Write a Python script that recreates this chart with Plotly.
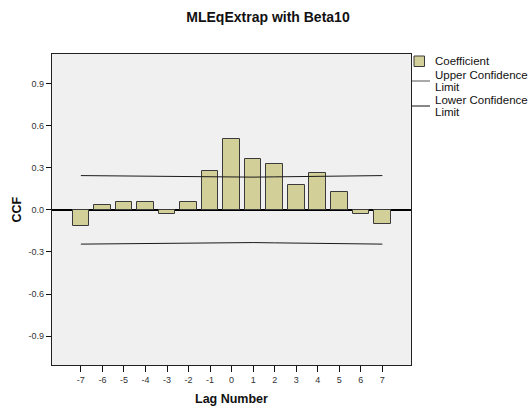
import plotly.graph_objects as go

# Cross-correlation results
lags = [-7, -6, -5, -4, -3, -2, -1, 0, 1, 2, 3, 4, 5, 6, 7]
coefficient = [-0.115, 0.035, 0.053, 0.057, -0.028, 0.057, 0.275, 0.508,
               0.363, 0.327, 0.178, 0.263, 0.130, -0.026, -0.100]
upper_limit = [0.244, 0.242, 0.240, 0.238, 0.236, 0.235, 0.233, 0.232,
               0.233, 0.235, 0.236, 0.238, 0.240, 0.242, 0.244]
lower_limit = [-0.244, -0.242, -0.240, -0.238, -0.236, -0.235, -0.233, -0.232,
               -0.233, -0.235, -0.236, -0.238, -0.240, -0.242, -0.244]

y_ticks = [-0.9, -0.6, -0.3, 0.0, 0.3, 0.6, 0.9]
y_tick_text = ["-0.9", "-0.6", "-0.3", "0.0", "0.3", "0.6", "0.9"]
x_tick_text = ["-7", "-6", "-5", "-4", "-3", "-2", "-1", "0",
               "1", "2", "3", "4", "5", "6", "7"]

W, H = 529, 406
ML, MR, MT, MB = 52, 118, 54, 41
PW, PH = W - ML - MR, H - MT - MB

FONT = "Liberation Sans, Arial, sans-serif"
BAR_FILL = "#d3cf98"
BAR_EDGE = "#3a3a3a"


def px_x(px):
    return (px - ML) / PW


def px_y(py):
    return (H - MB - py) / PH


fig = go.Figure()
fig.add_trace(go.Bar(
    x=lags, y=coefficient, width=0.77, name="Coefficient",
    marker=dict(color=BAR_FILL, line=dict(color=BAR_EDGE, width=1)),
))
fig.add_trace(go.Scatter(
    x=lags, y=upper_limit, mode="lines", name="Upper Confidence Limit",
    line=dict(color="#1a1a1a", width=1),
))
fig.add_trace(go.Scatter(
    x=lags, y=lower_limit, mode="lines", name="Lower Confidence Limit",
    line=dict(color="#1a1a1a", width=1),
))

# Legend drawn by hand so the two-line labels sit like the SPSS key
shapes = [
    dict(type="rect", xref="paper", yref="paper",
         x0=px_x(414), x1=px_x(424.5), y0=px_y(66.5), y1=px_y(56),
         fillcolor=BAR_FILL, line=dict(color=BAR_EDGE, width=1)),
    dict(type="line", xref="paper", yref="paper",
         x0=px_x(412), x1=px_x(430), y0=px_y(81), y1=px_y(81),
         line=dict(color="#555555", width=1)),
    dict(type="line", xref="paper", yref="paper",
         x0=px_x(412), x1=px_x(430), y0=px_y(106), y1=px_y(106),
         line=dict(color="#111111", width=1)),
]

legend_lines = [
    ("Coefficient", 61.5),
    ("Upper Confidence", 75),
    ("Limit", 87),
    ("Lower Confidence", 100),
    ("Limit", 112),
]
annotations = [
    dict(text=t, xref="paper", yref="paper", x=px_x(433), y=px_y(yy),
         xanchor="left", yanchor="middle", showarrow=False,
         font=dict(family=FONT, size=11.5, color="#111111"))
    for t, yy in legend_lines
]
annotations += [
    dict(text="<b>CCF</b>", xref="paper", yref="paper", x=px_x(16), y=0.5,
         xanchor="center", yanchor="middle", textangle=-90, showarrow=False,
         font=dict(family=FONT, size=12.5, color="#111111")),
    dict(text="<b>Lag Number</b>", xref="paper", yref="paper", x=0.5,
         y=px_y(399), xanchor="center", yanchor="middle", showarrow=False,
         font=dict(family=FONT, size=12.5, color="#111111")),
]

fig.update_layout(
    width=W, height=H,
    margin=dict(l=ML, r=MR, t=MT, b=MB, pad=0),
    paper_bgcolor="white",
    plot_bgcolor="#f0f0f0",
    showlegend=False,
    bargap=0,
    title=dict(text="<b>MLEqExtrap with Beta10</b>", xref="container",
               yref="container", x=268 / W, y=1 - 17 / H,
               xanchor="center", yanchor="middle",
               font=dict(family=FONT, size=14, color="#111111")),
    shapes=shapes,
    annotations=annotations,
    font=dict(family=FONT),
)
fig.update_xaxes(
    range=[-8.34, 8.33], tickvals=lags, ticktext=x_tick_text,
    ticks="outside", ticklen=6, tickcolor="#111111", tickwidth=1,
    showline=True, linecolor="#222222", linewidth=1.3, mirror=True,
    showgrid=False, zeroline=False,
    tickfont=dict(family=FONT, size=9, color="#333333"),
)
fig.update_yaxes(
    range=[-1.105, 1.11], tickvals=y_ticks, ticktext=y_tick_text,
    ticks="outside", ticklen=5, tickcolor="#111111", tickwidth=1,
    showline=True, linecolor="#222222", linewidth=1.3, mirror=True,
    showgrid=False, zeroline=True, zerolinecolor="#000000", zerolinewidth=2,
    tickfont=dict(family=FONT, size=9, color="#333333"),
)

fig.write_html("out.html")
